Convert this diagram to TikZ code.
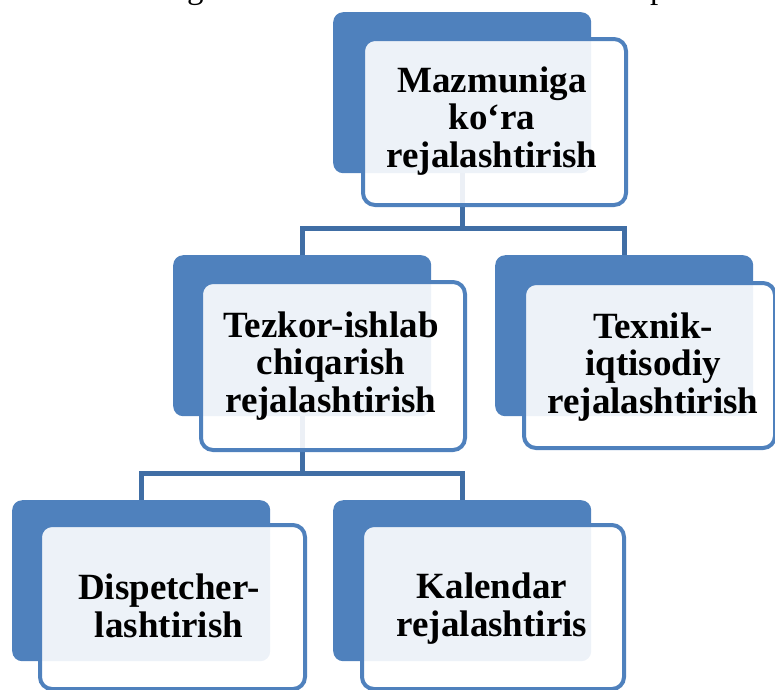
\documentclass[tikz,border=0pt]{standalone}
\usepackage{fontspec}
\setmainfont{Liberation Serif}
\definecolor{backblue}{RGB}{79,129,189}
\definecolor{linkblue}{RGB}{64,110,165}
\begin{document}
\begin{tikzpicture}[x=1pt,y=-1pt,
  backbox/.style={fill=backblue, rounded corners=10pt, inner sep=0pt, anchor=north west,
    minimum width=258pt, minimum height=161pt},
  frontbox/.style={draw=backblue, line width=4pt, fill=white, fill opacity=0.9,
    rounded corners=12pt, inner sep=0pt, anchor=north west},
  lbl/.style={font=\bfseries\fontsize{37}{37.5}\selectfont, align=center, text=black, inner sep=0pt},
  toptext/.style={font=\fontsize{33}{38}\selectfont, inner sep=0pt},
  link/.style={draw=linkblue, line width=5pt, line join=miter}
]
\useasboundingbox (0,0) rectangle (775,689);
\clip (0,0) rectangle (775,689);

% cut-off line of running text above the diagram
\node[toptext, anchor=base east] (ta) at (187,-2) {Bu ishlar o‘z mazmuni};
\node[toptext, anchor=base west] (tb) at (187,-2) {ga ko‘ra uch xil bo‘ladi va};
\node[toptext, anchor=base west] (tc) at (650,-2) {pastda ko‘rsatilgan};

% coordinates of the connector bars
\coordinate (j1) at (0,228);
\coordinate (j2) at (0,473);

% back boxes
\node[backbox] (b1) at (333,12) {};
\node[backbox] (b2) at (173,255) {};
\node[backbox] (b3) at (495,255) {};
\node[backbox] (b4) at (12,500) {};
\node[backbox] (b5) at (333,500) {};

% connectors
\draw[link] (b1.south) -- (b1.south |- j1) -- (b2.north |- j1) -- (b2.north);
\draw[link] (b1.south |- j1) -- (b3.north |- j1) -- (b3.north);
\draw[link] (b2.south) -- (b2.south |- j2) -- (b4.north |- j2) -- (b4.north);
\draw[link] (b2.south |- j2) -- (b5.north |- j2) -- (b5.north);

% front boxes
\node[frontbox, minimum width=263pt, minimum height=166pt] (f1) at (361,37) {};
\node[frontbox, minimum width=264pt, minimum height=168pt] (f2) at (199,280) {};
\node[frontbox, minimum width=251pt, minimum height=165pt] (f3) at (522,281) {};
\node[frontbox, minimum width=265pt, minimum height=164pt] (f4) at (38,523) {};
\node[frontbox, minimum width=262pt, minimum height=164pt] (f5) at (360,523) {};

% labels
\node[lbl] (l1) at (492,121) {Mazmuniga\\ko‘ra\\rejalashtirish};
\node[lbl] (l2) at (331,366) {Tezkor-ishlab\\chiqarish\\rejalashtirish};
\node[lbl] (l3) at (653,367) {Texnik-\\iqtisodiy\\rejalashtirish};
\node[lbl] (l4) at (169,606) {Dispetcher-\\lashtirish};
\node[lbl] (l5) at (492,608.5) {Kalendar\\rejalashtiris};
\end{tikzpicture}
\end{document}
